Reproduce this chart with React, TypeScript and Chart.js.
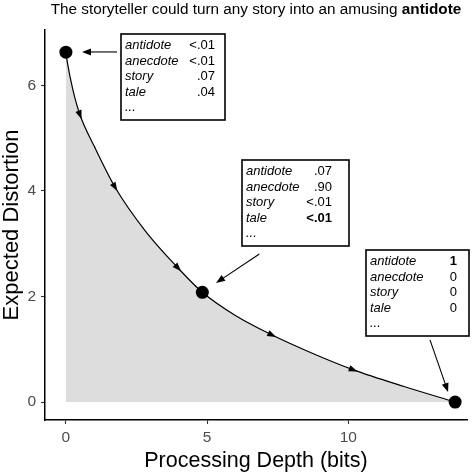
import React, { useEffect, useRef } from 'react';
import { Chart, registerables } from 'chart.js';

Chart.register(...registerables);

const FONT = '"Liberation Sans", Arial, Helvetica, sans-serif';

const titleText = 'The storyteller could turn any story into an amusing ';
const titleBold = 'antidote';
const xTitle = 'Processing Depth (bits)';
const yTitle = 'Expected Distortion';
const xTicks = [0, 5, 10];
const yTicks = [0, 2, 4, 6];

// rate-distortion curve
const curveX = [0, 0.05, 0.25, 0.5, 1.0, 1.74, 2.8, 3.97, 4.83, 6.0, 7.3, 8.7, 10.18, 12.0, 13.78];
const curveY = [6.63, 6.44, 5.91, 5.44, 4.85, 4.07, 3.25, 2.54, 2.08, 1.64, 1.27, 0.93, 0.61, 0.29, 0.0];

// highlighted points
const pointX = [0, 4.83, 13.78];
const pointY = [6.63, 2.08, 0.0];

// flow arrows on the curve (x values lie on the curve samples)
const flowArrowX = [0.5, 1.74, 3.97, 7.3, 10.18];

// annotation boxes
const boxWords = ['antidote', 'anecdote', 'story', 'tale', '...'];
const box1Values = ['<.01', '<.01', '.07', '.04', ''];
const box2Values = ['.07', '.90', '<.01', '<.01', ''];
const box3Values = ['1', '0', '0', '0', ''];
const boxValues = [box1Values, box2Values, box3Values];
const boxBoldRows = [[] as number[], [3], [0]];
const boxAnchorX = [1.95, 6.236, 10.63];
const boxAnchorY = [6.975, 4.588, 2.882];

// callout arrows (data coords)
const calloutFromX = [1.81, 6.85, 12.89];
const calloutFromY = [6.634, 2.806, 1.177];
const calloutToX = [0.57, 5.315, 13.53];
const calloutToY = [6.634, 2.257, 0.19];

const BOX_W = [104, 107, 103];
const BOX_H = 86;
const VALUE_RIGHT = [94, 90, 91];

function arrowHead(ctx: CanvasRenderingContext2D, tx: number, ty: number, ang: number, len: number, hw: number) {
  const c = Math.cos(ang), s = Math.sin(ang);
  const bx = tx - len * c, by = ty - len * s;
  ctx.beginPath();
  ctx.moveTo(tx, ty);
  ctx.lineTo(bx + hw * s, by - hw * c);
  ctx.lineTo(bx - hw * s, by + hw * c);
  ctx.closePath();
  ctx.fill();
}

const annotPlugin = {
  id: 'annot',
  afterDatasetsDraw(chart: any) {
    const ctx: CanvasRenderingContext2D = chart.ctx;
    const xs = chart.scales.x, ys = chart.scales.y;
    ctx.save();
    ctx.fillStyle = '#000';
    ctx.strokeStyle = '#000';
    // flow arrows
    flowArrowX.forEach((fx) => {
      const i = curveX.indexOf(fx);
      const px = xs.getPixelForValue(curveX[i]);
      const py = ys.getPixelForValue(curveY[i]);
      const ax = xs.getPixelForValue(curveX[i + 1]) - xs.getPixelForValue(curveX[i - 1]);
      const ay = ys.getPixelForValue(curveY[i + 1]) - ys.getPixelForValue(curveY[i - 1]);
      const ang = Math.atan2(ay, ax);
      arrowHead(ctx, px + 4.5 * Math.cos(ang), py + 4.5 * Math.sin(ang), ang, 9, 3.2);
    });
    // callouts
    calloutFromX.forEach((_, k) => {
      const x1 = xs.getPixelForValue(calloutFromX[k]);
      const y1 = ys.getPixelForValue(calloutFromY[k]);
      const x2 = xs.getPixelForValue(calloutToX[k]);
      const y2 = ys.getPixelForValue(calloutToY[k]);
      const ang = Math.atan2(y2 - y1, x2 - x1);
      ctx.lineWidth = 1.1;
      ctx.beginPath();
      ctx.moveTo(x1, y1);
      ctx.lineTo(x2 - 6 * Math.cos(ang), y2 - 6 * Math.sin(ang));
      ctx.stroke();
      arrowHead(ctx, x2, y2, ang, 9, 3.5);
    });
    // boxes
    boxAnchorX.forEach((_, k) => {
      const left = Math.round(xs.getPixelForValue(boxAnchorX[k]));
      const top = Math.round(ys.getPixelForValue(boxAnchorY[k]));
      ctx.fillStyle = '#fff';
      ctx.fillRect(left, top, BOX_W[k], BOX_H);
      ctx.lineWidth = 1.6;
      ctx.strokeStyle = '#000';
      ctx.strokeRect(left, top, BOX_W[k], BOX_H);
      ctx.fillStyle = '#000';
      ctx.textBaseline = 'alphabetic';
      boxWords.forEach((w, r) => {
        const by = top + 15 + r * 15.5;
        ctx.textAlign = 'left';
        ctx.font = `italic 13px ${FONT}`;
        ctx.fillText(w, left + 4, by);
        const v = boxValues[k][r];
        if (v) {
          ctx.textAlign = 'right';
          ctx.font = `${boxBoldRows[k].includes(r) ? 'bold ' : ''}13px ${FONT}`;
          ctx.fillText(v, left + VALUE_RIGHT[k], by);
        }
      });
    });
    ctx.restore();
  },
  afterDraw(chart: any) {
    const ctx: CanvasRenderingContext2D = chart.ctx;
    ctx.save();
    ctx.fillStyle = '#000';
    ctx.textBaseline = 'alphabetic';
    ctx.textAlign = 'left';
    const fs = 15.3;
    ctx.font = `${fs}px ${FONT}`;
    const w1 = ctx.measureText(titleText).width;
    ctx.font = `bold ${fs}px ${FONT}`;
    const w2 = ctx.measureText(titleBold).width;
    const cx = (chart.chartArea.left + chart.chartArea.right) / 2;
    const x0 = cx - (w1 + w2) / 2;
    ctx.font = `${fs}px ${FONT}`;
    ctx.fillText(titleText, x0, 14);
    ctx.font = `bold ${fs}px ${FONT}`;
    ctx.fillText(titleBold, x0 + w1, 14);
    ctx.restore();
  },
};

export default function App() {
  const ref = useRef<HTMLCanvasElement | null>(null);
  useEffect(() => {
    document.body.style.margin = '0';
    const canvas = ref.current!;
    const chart = new Chart(canvas, {
      type: 'line',
      data: {
        datasets: [
          {
            data: curveX.map((x, i) => ({ x, y: curveY[i] })),
            borderColor: '#000',
            borderWidth: 1.2,
            pointRadius: 0,
            fill: 'origin',
            backgroundColor: '#DDDDDD',
            cubicInterpolationMode: 'monotone',
            order: 2,
          } as any,
          {
            data: pointX.map((x, i) => ({ x, y: pointY[i] })),
            showLine: false,
            pointRadius: 6.5,
            pointBackgroundColor: '#000',
            pointBorderWidth: 0,
            fill: false,
            order: 1,
          } as any,
        ],
      },
      options: {
        responsive: false,
        animation: false,
        layout: { padding: { top: 30, right: 7, left: 0, bottom: 0 } },
        plugins: { legend: { display: false }, tooltip: { enabled: false } },
        scales: {
          x: {
            type: 'linear',
            min: -0.74,
            max: 14.2,
            afterBuildTicks: (s: any) => { s.ticks = xTicks.map((v) => ({ value: v })); },
            afterFit: (s: any) => { s.height = 52; },
            grid: { display: true, drawOnChartArea: false, drawTicks: true, tickLength: 4, tickColor: '#333', tickWidth: 1.1 },
            border: { display: true, color: '#000', width: 1.5 },
            ticks: { color: '#4D4D4D', font: { family: FONT, size: 15.5 }, padding: 4, maxRotation: 0, autoSkip: false },
            title: { display: true, text: xTitle, color: '#000', font: { family: FONT, size: 21.5, lineHeight: 1 }, padding: { top: 0, bottom: 0 } },
          },
          y: {
            type: 'linear',
            min: -0.34,
            max: 7.05,
            afterBuildTicks: (s: any) => { s.ticks = yTicks.map((v) => ({ value: v })); },
            afterFit: (s: any) => { s.width = 45; },
            grid: { display: true, drawOnChartArea: false, drawTicks: true, tickLength: 4, tickColor: '#333', tickWidth: 1.1 },
            border: { display: true, color: '#000', width: 1.5 },
            ticks: { color: '#4D4D4D', font: { family: FONT, size: 15.5 }, padding: 5, autoSkip: false },
            title: { display: true, text: yTitle, color: '#000', font: { family: FONT, size: 22, lineHeight: 1 }, padding: { top: 0.5, bottom: 0 } },
          },
        },
      } as any,
      plugins: [annotPlugin],
    });
    return () => chart.destroy();
  }, []);
  return <canvas ref={ref} width={474} height={472} style={{ display: 'block', width: 474, height: 472 }} />;
}
